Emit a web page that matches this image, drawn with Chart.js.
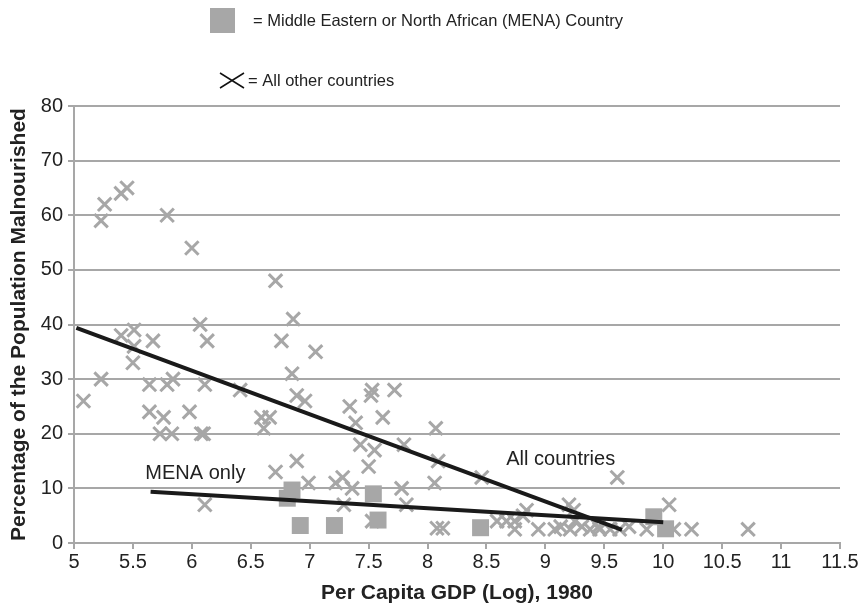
<!DOCTYPE html>
<html>
<head>
<meta charset="utf-8">
<script src="https://cdn.jsdelivr.net/npm/chart.js@4.4.0/dist/chart.umd.min.js"></script>
<style>
  html, body { margin: 0; padding: 0; background: #fff; }
  #wrap { width: 863px; height: 606px; }
</style>
</head>
<body>
<div id="wrap"><canvas id="scatter" width="863" height="606"></canvas></div>
<script>
// All other countries (x = log GDP per capita 1980, y = % malnourished)
const otherX = [5.08, 5.23, 5.23, 5.26, 5.40, 5.45, 5.40, 5.51, 5.50, 5.51, 5.64, 5.67, 5.64, 5.76, 5.73, 5.79, 5.84, 5.79, 5.83, 6.00, 5.98, 6.07, 6.13, 6.11, 6.08, 6.10, 6.41, 6.11,
  6.59, 6.66, 6.61, 6.71, 6.76, 6.86, 6.85, 6.89, 6.96, 7.05, 6.71, 6.89, 6.99,
  7.22, 7.28, 7.36, 7.29, 7.34, 7.39, 7.43, 7.53, 7.52, 7.72, 7.62, 7.55, 7.50, 7.80, 7.78, 7.82, 7.53, 8.07, 8.09, 8.06, 8.08, 8.13,
  8.46, 8.59, 8.67, 8.74, 8.81, 8.84, 8.74, 8.94, 9.08, 9.13, 9.20, 9.24, 9.25, 9.21, 9.31, 9.38, 9.45, 9.46, 9.55, 9.61, 9.63, 9.71, 9.86, 10.05, 10.09, 10.24, 10.72];
const otherY = [26, 30, 59, 62, 64, 65, 38, 39, 33, 36, 29, 37, 24, 23, 20, 29, 30, 60, 20, 54, 24, 40, 37, 29, 20, 20, 28, 7,
  23, 23, 21, 48, 37, 41, 31, 27, 26, 35, 13, 15, 11,
  11, 12, 10, 7, 25, 22, 18, 28, 27, 28, 23, 17, 14, 18, 10, 7, 4, 21, 15, 11, 2.7, 2.7,
  12, 4, 4, 4, 5, 6, 2.5, 2.5, 2.5, 3, 7, 6, 4, 2.5, 3, 2.5, 3, 2.5, 2.5, 12, 2.5, 3, 2.5, 7, 2.5, 2.5, 2.5];

// MENA countries
const menaX = [6.85, 6.81, 6.92, 7.21, 7.54, 7.58, 8.45, 9.92, 10.02];
const menaY = [9.7, 8.2, 3.2, 3.2, 9.0, 4.2, 2.8, 4.8, 2.6];

// fitted lines (endpoints)
const allFitX = [5.02, 9.65];
const allFitY = [39.4, 2.4];
const menaFitX = [5.65, 10.0];
const menaFitY = [9.4, 3.8];

const xTicks = { min: 5, max: 11.5, step: 0.5 };
const yTicks = { min: 0, max: 80, step: 10 };

const toPoints = (xs, ys) => xs.map((x, i) => ({ x: x, y: ys[i] }));

const GRAY = '#a7a7a7';
const FONT = '"Liberation Sans", Arial, Helvetica, sans-serif';

// legend box at top and line labels
const decorations = {
    id: 'decorations',
    afterDraw(chart) {
        const ctx = chart.ctx;
        const xs = chart.scales.x;
        const ys = chart.scales.y;
        ctx.save();
        // legend
        ctx.fillStyle = GRAY;
        ctx.fillRect(210, 8, 25, 25);
        ctx.strokeStyle = '#111';
        ctx.lineWidth = 1.5;
        ctx.beginPath();
        ctx.moveTo(220, 73); ctx.lineTo(244, 88);
        ctx.moveTo(220, 88); ctx.lineTo(244, 73);
        ctx.stroke();
        ctx.fillStyle = '#222';
        ctx.font = '16.5px ' + FONT;
        ctx.textBaseline = 'middle';
        ctx.fillText('= Middle Eastern or North African (MENA) Country', 253, 21);
        ctx.fillText('= All other countries', 248, 81);
        // line labels
        ctx.font = '20px ' + FONT;
        ctx.textAlign = 'center';
        ctx.fillText('MENA only', xs.getPixelForValue(6.03), ys.getPixelForValue(12.8));
        ctx.fillText('All countries', xs.getPixelForValue(9.13), ys.getPixelForValue(15.2));
        ctx.restore();
    }
};

const ctx = document.getElementById('scatter').getContext('2d');
new Chart(ctx, {
    type: 'scatter',
    data: {
        datasets: [
            {
                label: 'All countries fit',
                data: toPoints(allFitX, allFitY),
                showLine: true,
                borderColor: '#1a1a1a',
                borderWidth: 4,
                pointRadius: 0,
                order: 0
            },
            {
                label: 'MENA only fit',
                data: toPoints(menaFitX, menaFitY),
                showLine: true,
                borderColor: '#1a1a1a',
                borderWidth: 4,
                pointRadius: 0,
                order: 0
            },
            {
                label: 'MENA',
                data: toPoints(menaX, menaY),
                pointStyle: 'rect',
                pointRadius: 12,
                backgroundColor: GRAY,
                borderWidth: 0,
                order: 1
            },
            {
                label: 'All other countries',
                data: toPoints(otherX, otherY),
                pointStyle: 'crossRot',
                pointRadius: 9.5,
                borderColor: GRAY,
                borderWidth: 3,
                order: 2
            }
        ]
    },
    options: {
        responsive: false,
        animation: false,
        layout: { padding: { top: 106, right: 23, left: 0, bottom: 0 } },
        plugins: {
            legend: { display: false },
            tooltip: { enabled: false }
        },
        scales: {
            x: {
                type: 'linear',
                min: xTicks.min,
                max: xTicks.max,
                afterFit: (scale) => { scale.height = 63; },
                ticks: {
                    stepSize: xTicks.step,
                    color: '#222',
                    font: { family: FONT, size: 20 },
                    padding: 1,
                    callback: (v) => String(Number(v))
                },
                grid: { drawOnChartArea: false, drawTicks: true, tickLength: 6, color: GRAY, lineWidth: 2 },
                border: { color: GRAY, width: 2 },
                title: {
                    display: true,
                    text: 'Per Capita GDP (Log), 1980',
                    color: '#222',
                    font: { family: FONT, size: 21, weight: 'bold' },
                    padding: { top: 0, bottom: 0 }
                }
            },
            y: {
                min: yTicks.min,
                max: yTicks.max,
                afterFit: (scale) => { scale.width = 74; },
                ticks: {
                    stepSize: yTicks.step,
                    color: '#222',
                    font: { family: FONT, size: 20 },
                    padding: 5
                },
                grid: { color: GRAY, lineWidth: 2, tickLength: 6 },
                border: { color: GRAY, width: 2 },
                title: {
                    display: true,
                    text: 'Percentage of the Population Malnourished',
                    color: '#222',
                    font: { family: FONT, size: 21, weight: 'bold' },
                    padding: { top: 7, bottom: 0 }
                }
            }
        }
    },
    plugins: [decorations]
});
</script>
</body>
</html>
